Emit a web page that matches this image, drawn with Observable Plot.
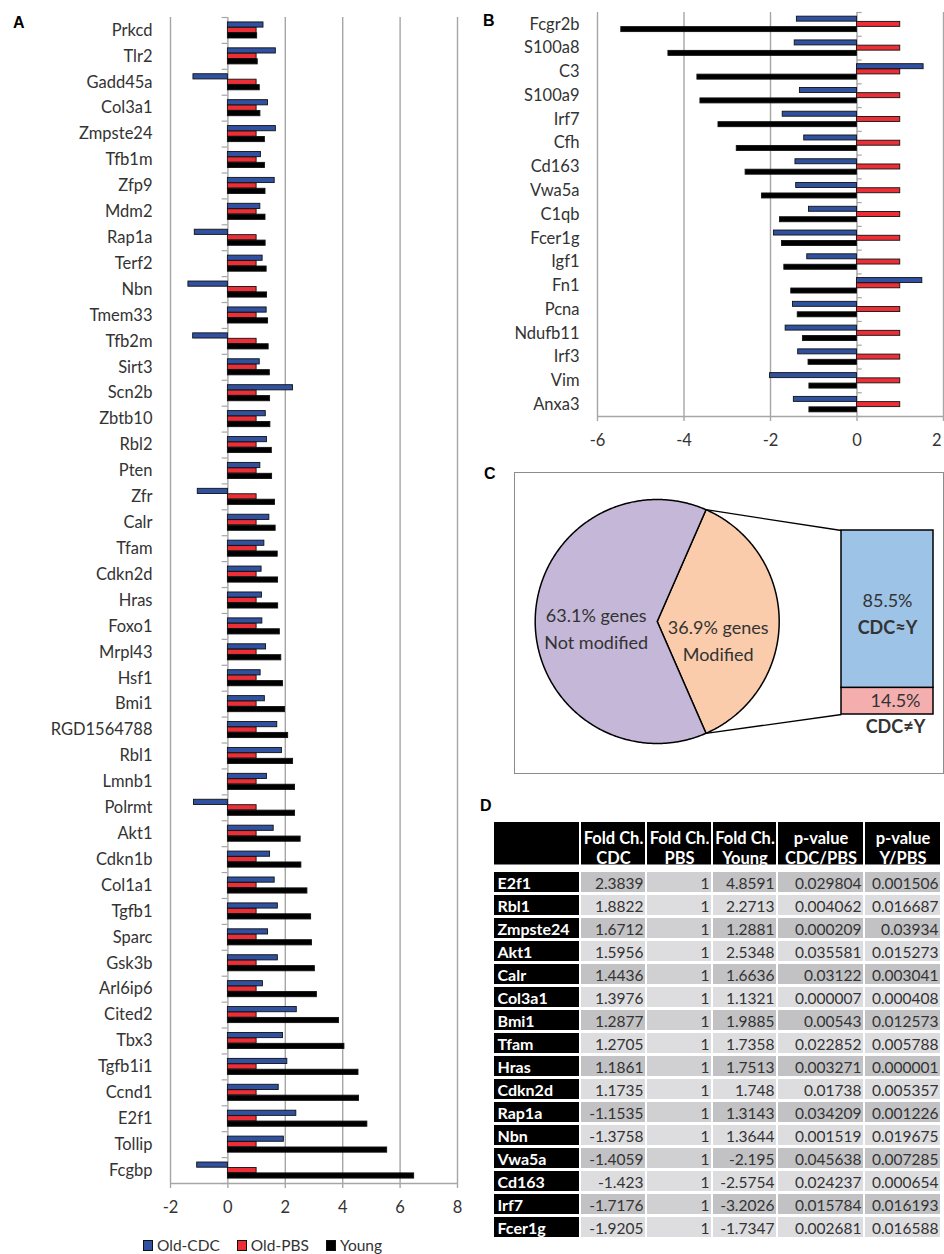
<!DOCTYPE html>
<html><head><meta charset="utf-8">
<script src="https://cdn.jsdelivr.net/npm/d3@7"></script>
<script src="https://cdn.jsdelivr.net/npm/@observablehq/plot@0.6"></script>
<style>
body{margin:0;background:#fff;font-family:Lato,sans-serif;}
#fig{position:relative;width:944px;height:1254px;overflow:hidden;background:#fff;}
.plabel{position:absolute;font:bold 16px "Liberation Sans",Arial,sans-serif;line-height:16px;color:#000;}
#legend{position:absolute;left:143px;top:1237px;display:flex;gap:17px;font:15.5px Lato,sans-serif;line-height:16px;color:#333;}
#legend .it{display:flex;align-items:center;}
#legend .sw{display:inline-block;width:8px;height:9px;border:1px solid #111;margin-right:4px;}
</style></head><body><div id="fig"></div>
<script>
// ---------- DATA ----------
const series = ["Old-CDC", "Old-PBS", "Young"];
const seriesColors = ["#2F51A0", "#EC2F37", "#000000"];

// Panel A
const genesA = ["Prkcd","Tlr2","Gadd45a","Col3a1","Zmpste24","Tfb1m","Zfp9","Mdm2","Rap1a","Terf2",
  "Nbn","Tmem33","Tfb2m","Sirt3","Scn2b","Zbtb10","Rbl2","Pten","Zfr","Calr",
  "Tfam","Cdkn2d","Hras","Foxo1","Mrpl43","Hsf1","Bmi1","RGD1564788","Rbl1","Lmnb1",
  "Polrmt","Akt1","Cdkn1b","Col1a1","Tgfb1","Sparc","Gsk3b","Arl6ip6","Cited2","Tbx3",
  "Tgfb1i1","Ccnd1","E2f1","Tollip","Fcgbp"];
const cdcA = [1.24,1.67,-1.20,1.3976,1.6712,1.15,1.63,1.13,-1.1535,1.21,
  -1.3758,1.35,-1.21,1.11,2.27,1.32,1.36,1.13,-1.05,1.4436,
  1.2705,1.1735,1.1861,1.20,1.33,1.14,1.2877,1.72,1.8822,1.36,
  -1.18,1.5956,1.47,1.63,1.74,1.40,1.74,1.22,2.40,1.92,
  2.07,1.77,2.3839,1.95,-1.07];
const pbsA = [1,1,1,1,1,1,1,1,1,1, 1,1,1,1,1,1,1,1,1,1, 1,1,1,1,1,1,1,1,1,1, 1,1,1,1,1,1,1,1,1,1, 1,1,1,1,1];
const youngA = [1.02,1.04,1.11,1.1321,1.2881,1.29,1.31,1.31,1.3143,1.35,
  1.3644,1.40,1.42,1.46,1.47,1.48,1.53,1.54,1.64,1.6636,
  1.7358,1.748,1.7513,1.81,1.86,1.92,1.9885,2.10,2.2713,2.34,
  2.34,2.5348,2.56,2.77,2.90,2.93,3.03,3.10,3.87,4.06,
  4.55,4.57,4.8591,5.55,6.49];
const xTicksA = [-2, 0, 2, 4, 6, 8];

// Panel B
const genesB = ["Fcgr2b","S100a8","C3","S100a9","Irf7","Cfh","Cd163","Vwa5a","C1qb","Fcer1g","Igf1","Fn1","Pcna","Ndufb11","Irf3","Vim","Anxa3"];
const cdcB = [-1.39,-1.44,1.54,-1.32,-1.7176,-1.22,-1.423,-1.4059,-1.11,-1.9205,-1.15,1.51,-1.48,-1.65,-1.36,-2.01,-1.46];
const pbsB = [1,1,1,1,1,1,1,1,1,1,1,1,1,1,1,1,1];
const youngB = [-5.45,-4.36,-3.69,-3.62,-3.2026,-2.78,-2.5754,-2.195,-1.78,-1.7347,-1.68,-1.52,-1.37,-1.25,-1.12,-1.10,-1.10];
const xTicksB = [-6, -4, -2, 0, 2];

// Panel C
const pieLabels = ["Not modified", "Modified"];
const pieValues = [63.1, 36.9];
const pieColors = ["#C4B7D8", "#FACCAC"];
const barLabels = ["CDC≈Y", "CDC≠Y"];
const barValues = [85.5, 14.5];
const barColors = ["#9DC3E6", "#F5AEAE"];

// Panel D
const tblGenes = ["E2f1","Rbl1","Zmpste24","Akt1","Calr","Col3a1","Bmi1","Tfam","Hras","Cdkn2d","Rap1a","Nbn","Vwa5a","Cd163","Irf7","Fcer1g"];
const tblCDC = [2.3839,1.8822,1.6712,1.5956,1.4436,1.3976,1.2877,1.2705,1.1861,1.1735,-1.1535,-1.3758,-1.4059,-1.423,-1.7176,-1.9205];
const tblPBS = [1,1,1,1,1,1,1,1,1,1,1,1,1,1,1,1];
const tblYoung = [4.8591,2.2713,1.2881,2.5348,1.6636,1.1321,1.9885,1.7358,1.7513,1.748,1.3143,1.3644,-2.195,-2.5754,-3.2026,-1.7347];
const tblPCDC = [0.029804,0.004062,0.000209,0.035581,0.03122,0.000007,0.00543,0.022852,0.003271,0.01738,0.034209,0.001519,0.045638,0.024237,0.015784,0.002681];
const tblPY = [0.001506,0.016687,0.03934,0.015273,0.003041,0.000408,0.012573,0.005788,0.000001,0.005357,0.001226,0.019675,0.007285,0.000654,0.016193,0.016588];
const tblHeaders = ["", "Fold Ch.\nCDC", "Fold Ch.\nPBS", "Fold Ch.\nYoung", "p-value\nCDC/PBS", "p-value\nY/PBS"];

// ---------- LAYOUT ----------
const fig = document.getElementById("fig");
function place(el, left, top) {
  el.style.position = "absolute"; el.style.left = left + "px"; el.style.top = top + "px";
  fig.appendChild(el); return el;
}
const baseStyle = {fontFamily: "Lato, sans-serif", fontSize: "16.5px", color: "#333", background: "none", overflow: "visible"};
const grid = "#a6a6a6";
const hyphen = d => String(d);

function groupedBars(genes, cdc, pbs, young, opts) {
  const offs = {"Old-CDC": -opts.off, "Old-PBS": 0, "Young": opts.off};
  const h = opts.barH;
  const data = genes.flatMap((g, i) => [
    {i, gene: g, series: series[0], value: cdc[i]},
    {i, gene: g, series: series[1], value: pbs[i]},
    {i, gene: g, series: series[2], value: young[i]}
  ]);
  const n = genes.length;
  const last = opts.ticks[opts.ticks.length - 1];
  const inner = opts.clipLast ? opts.ticks.slice(0, -1) : opts.ticks;
  return Plot.plot({
    width: opts.width, height: opts.height,
    marginTop: opts.mt, marginBottom: opts.mb, marginLeft: opts.ml, marginRight: opts.mr,
    style: baseStyle,
    x: {domain: opts.domain},
    y: {domain: [-0.5, n - 0.5], reverse: true},
    color: {domain: series, range: seriesColors},
    marks: [
      Plot.ruleX(opts.grid, {stroke: grid, strokeWidth: 1.4}),
      Plot.ruleX([0], {stroke: grid, strokeWidth: 1.4}),
      Plot.ruleY(d3.range(-0.5, n), {x1: opts.tick[0], x2: opts.tick[1], stroke: grid, strokeWidth: 1.2}),
      Plot.ruleY([n - 0.5], {stroke: grid, strokeWidth: 1.4}),
      Plot.rect(data, {
        x1: () => 0, x2: "value",
        y1: d => d.i + offs[d.series] - h / 2,
        y2: d => d.i + offs[d.series] + h / 2,
        fill: "series", stroke: "#111", strokeWidth: 0.9
      }),
      Plot.axisX({ticks: opts.ticks, tickSize: 5, tickPadding: 13, stroke: grid, strokeWidth: 1.4, fill: "none", label: null}),
      Plot.axisX({ticks: inner, tickSize: 0, tickPadding: 18, tickFormat: hyphen, label: null}),
      ...(opts.clipLast ? [Plot.axisX({ticks: [last], tickSize: 0, tickPadding: 18, tickFormat: hyphen, textAnchor: "end", dx: -2, label: null})] : []),
      Plot.axisY({ticks: genes.map((_, i) => i), tickFormat: i => genes[i], tickSize: 0, tickPadding: opts.pad, label: null})
    ]
  });
}

// Panel A
place(groupedBars(genesA, cdcA, pbsA, youngA, {
  width: 470, height: 1232, mt: 17, mb: 49, ml: 170, mr: 13,
  domain: [-2, 8], grid: [-2, 2, 4, 6, 8], ticks: xTicksA, tick: [-0.2, 0],
  off: 0.21, barH: 0.2, pad: 18, clipLast: false
}), 0, 0);

// Panel B
place(groupedBars(genesB, cdcB, pbsB, youngB, {
  width: 474, height: 452, mt: 12, mb: 36, ml: 127, mr: 1,
  domain: [-6, 2], grid: [-6, -4, -2, 2], ticks: xTicksB, tick: [0, 0.12],
  off: 0.22, barH: 0.21, pad: 18, clipLast: true
}), 470, 0);

// Panel C
(function () {
  const L = {left: 513, top: 471, w: 431, h: 303, cx: 656.7, cy: 621, r: 122};
  const u = px => (px - L.cx) / L.r, v = py => (L.cy - py) / L.r;
  const bar = {x1: u(841), x2: u(933), bottom: v(714), top: v(530)};
  const total = d3.sum(pieValues);
  let a0 = -Math.PI * pieValues[1] / total;
  const slices = [];
  for (const k of [1, 0]) {
    const span = 2 * Math.PI * pieValues[k] / total;
    const a1 = a0 + span;
    const pts = [{x: 0, y: 0}];
    const steps = Math.ceil(span / 0.01);
    for (let s = 0; s <= steps; s++) {
      const a = a0 + span * s / steps;
      pts.push({x: Math.cos(a), y: Math.sin(a)});
    }
    pts.push({x: 0, y: 0});
    slices.push({k, a0, a1, mid: (a0 + a1) / 2, pts});
    a0 = a1;
  }
  const mod = slices[0];
  const links = [
    {x1: Math.cos(mod.a1), y1: Math.sin(mod.a1), x2: bar.x1, y2: bar.top},
    {x1: Math.cos(mod.a0), y1: Math.sin(mod.a0), x2: bar.x1, y2: bar.bottom}
  ];
  const bTotal = d3.sum(barValues);
  const segs = [];
  let cum = 0;
  for (const k of [1, 0]) {
    const y1 = bar.bottom + (bar.top - bar.bottom) * cum / bTotal;
    cum += barValues[k];
    const y2 = bar.bottom + (bar.top - bar.bottom) * cum / bTotal;
    segs.push({k, label: barLabels[k], value: barValues[k], y1, y2, ym: (y1 + y2) / 2, fill: barColors[k]});
  }
  const bx = (bar.x1 + bar.x2) / 2;
  const pct = d => d3.format(".1f")(d) + "%";
  const marks = [
    Plot.frame({stroke: "#8c8c8c", strokeWidth: 1}),
    ...slices.map(s => Plot.line(s.pts, {x: "x", y: "y", fill: pieColors[s.k], stroke: "#000", strokeWidth: 1.5, curve: "linear"})),
    Plot.link(links, {x1: "x1", y1: "y1", x2: "x2", y2: "y2", stroke: "#000", strokeWidth: 1.3}),
    Plot.rect(segs, {x1: () => bar.x1, x2: () => bar.x2, y1: "y1", y2: "y2", fill: "fill", stroke: "#000", strokeWidth: 1.5}),
    ...slices.map(s => Plot.text([s], {
      x: d => 0.5 * Math.cos(d.mid), y: d => 0.5 * Math.sin(d.mid),
      text: d => pct(pieValues[d.k]) + " genes\n" + pieLabels[d.k],
      fontSize: 18, lineHeight: 1.5, fill: "#333", dy: s.k === 0 ? 5 : 17
    })),
    Plot.text([segs[1]], {x: () => bx, y: "ym", text: d => pct(d.value), fontSize: 18, fill: "#333", dy: -8}),
    Plot.text([segs[1]], {x: () => bx, y: "ym", text: "label", fontSize: 18, fontWeight: "bold", fill: "#333", dy: 19}),
    Plot.text([segs[0]], {x: () => bx, y: "ym", text: d => pct(d.value), fontSize: 18, fill: "#333", dx: 8, dy: 0}),
    Plot.text([segs[0]], {x: () => bx, y: () => bar.bottom, text: "label", fontSize: 18, fontWeight: "bold", fill: "#333", dx: 8, dy: 13})
  ];
  const p = Plot.plot({
    width: L.w, height: L.h, margin: 1,
    style: baseStyle,
    x: {domain: [u(L.left + 1), u(L.left + L.w - 1)], axis: null},
    y: {domain: [v(L.top + L.h - 1), v(L.top + 1)], axis: null},
    color: {type: "identity"},
    marks
  });
  place(p, L.left, L.top);
})();

// Panel D
(function () {
  const colW = [85, 64, 64, 63, 85, 75], gap = 2;
  const colX = []; let acc = 0;
  for (const w of colW) { colX.push(acc); acc += w + gap; }
  const W = acc - gap;
  const cols = [null, tblCDC, tblPBS, tblYoung, tblPCDC, tblPY];
  const cells = tblGenes.flatMap((g, r) => cols.map((arr, c) => ({r, c, gene: g, text: c === 0 ? g : String(arr[r])})));
  const fillOf = d => d.c === 0 ? "#000000" : (d.r % 2 === 0 ? (d.c === 2 ? "#D0D0D2" : "#C2C2C4") : "#DDDDDF");
  const head = Plot.plot({
    width: W, height: 42.5, margin: 0, style: baseStyle,
    x: {domain: [0, W], axis: null},
    marks: [
      Plot.barX(tblHeaders.map((h, c) => ({h, c})), {x1: d => colX[d.c], x2: d => colX[d.c] + colW[d.c], fill: "#000"}),
      Plot.text(tblHeaders.map((h, c) => ({h, c})), {x: d => colX[d.c] + colW[d.c] / 2, text: "h", fill: "#fff", fontWeight: "bold", fontSize: 16.5, lineHeight: 1.21, dy: 4})
    ]
  });
  place(head, 494, 821.7);
  const body = Plot.plot({
    width: W, height: 373.5, margin: 0, style: baseStyle,
    x: {domain: [0, W], axis: null},
    y: {domain: tblGenes, paddingInner: 0.13, paddingOuter: 0.065, axis: null},
    color: {type: "identity"},
    marks: [
      Plot.barX(cells, {x1: d => colX[d.c], x2: d => colX[d.c] + colW[d.c], y: "gene", fill: fillOf}),
      Plot.text(cells.filter(d => d.c === 0), {x: d => colX[0] + 3, y: "gene", text: "text", textAnchor: "start", fill: "#fff", fontWeight: "bold", fontSize: 16, dy: 1}),
      Plot.text(cells.filter(d => d.c > 0), {x: d => colX[d.c] + colW[d.c] - 2, y: "gene", text: "text", textAnchor: "end", fill: "#333", fontSize: 15.5, dy: 1.5})
    ]
  });
  place(body, 494, 867.5);
})();

// Panel letters
[["A", 13, 15], ["B", 483, 13], ["C", 484, 466], ["D", 480, 798]].forEach(([t, x, y]) => {
  const d = document.createElement("div"); d.className = "plabel"; d.textContent = t; place(d, x, y);
});

// Legend for A
const leg = document.createElement("div"); leg.id = "legend";
series.forEach((s, i) => {
  const it = document.createElement("span"); it.className = "it";
  const sw = document.createElement("span"); sw.className = "sw"; sw.style.background = seriesColors[i];
  it.appendChild(sw); it.appendChild(document.createTextNode(s)); leg.appendChild(it);
});
fig.appendChild(leg);
</script></body></html>
